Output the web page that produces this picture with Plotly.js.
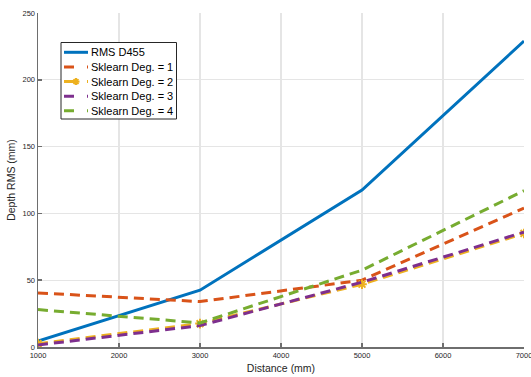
<!DOCTYPE html>
<html>
<head>
<meta charset="utf-8">
<script src="https://cdn.plot.ly/plotly-3.0.1.min.js"></script>
<style>html,body{margin:0;padding:0;background:#fff;}#chart{width:531px;height:377px;}</style>
</head>
<body>
<div id="chart"></div>
<script>
const distance = [1000, 3000, 5000, 7000];
const rmsD455 = [4.5, 42.5, 117.5, 229];
const sklearnDeg1 = [40.5, 34, 50, 104];
const sklearnDeg2 = [2.5, 17.5, 47, 85];
const sklearnDeg3 = [1.5, 16, 48.5, 86];
const sklearnDeg4 = [28, 18, 57.5, 117];
const seriesNames = ['RMS D455', 'Sklearn Deg. = 1', 'Sklearn Deg. = 2', 'Sklearn Deg. = 3', 'Sklearn Deg. = 4'];
const xTicks = [1000, 2000, 3000, 4000, 5000, 6000, 7000];
const yTicks = [0, 50, 100, 150, 200, 250];

const colors = ['#0072BD', '#D95319', '#EDB120', '#7E2F8E', '#77AC30'];
const dash = '10px,6px';
const traces = [
  {x: distance, y: rmsD455, name: seriesNames[0], mode: 'lines', line: {color: colors[0], width: 3}},
  {x: distance, y: sklearnDeg1, name: seriesNames[1], mode: 'lines', line: {color: colors[1], width: 3, dash: dash}},
  {x: distance, y: sklearnDeg2, name: seriesNames[2], mode: 'lines+markers', line: {color: colors[2], width: 3, dash: dash},
   marker: {symbol: 'asterisk-open', size: 8, color: colors[2], line: {color: colors[2], width: 2}}},
  {x: distance, y: sklearnDeg3, name: seriesNames[3], mode: 'lines', line: {color: colors[3], width: 3, dash: dash}},
  {x: distance, y: sklearnDeg4, name: seriesNames[4], mode: 'lines', line: {color: colors[4], width: 3, dash: dash}}
];

const W = 531, H = 377;
const M = {l: 38, r: 7, t: 13, b: 30};
const pw = W - M.l - M.r, ph = H - M.t - M.b;
const px2x = p => (p - M.l) / pw;
const py2y = p => (H - M.b - p) / ph;

// custom legend (pixel layout)
const legBox = {x0: 61, x1: 176.5, y0: 42.5, y1: 119};
const legRowY = [52.3, 67, 81.6, 96.2, 110.8];
const shapes = [{
  type: 'rect', xref: 'paper', yref: 'paper',
  x0: px2x(legBox.x0), x1: px2x(legBox.x1), y0: py2y(legBox.y1), y1: py2y(legBox.y0),
  line: {color: '#262626', width: 1}, fillcolor: '#fff', layer: 'above'
}];
const annotations = [];
seriesNames.forEach((name, i) => {
  const yy = py2y(legRowY[i]);
  shapes.push({
    type: 'line', xref: 'paper', yref: 'paper', layer: 'above',
    x0: px2x(64), x1: px2x(88), y0: yy, y1: yy,
    line: {color: colors[i], width: 3, dash: i === 0 ? 'solid' : '10px,13px'}
  });
  annotations.push({
    xref: 'paper', yref: 'paper', x: px2x(88.5), y: yy, xanchor: 'left', yanchor: 'middle',
    text: name, showarrow: false, font: {size: 11, color: '#000', family: 'Liberation Sans, Arial, sans-serif'}
  });
});
// asterisk marker for deg 2 legend sample
(function () {
  const cx = 76, cy = legRowY[2], r = 3.5, d = r * 0.7071;
  const segs = [[-r, 0, r, 0], [0, -r, 0, r], [-d, -d, d, d], [-d, d, d, -d]];
  segs.forEach(s => shapes.push({
    type: 'line', xref: 'paper', yref: 'paper', layer: 'above',
    x0: px2x(cx + s[0]), y0: py2y(cy + s[1]), x1: px2x(cx + s[2]), y1: py2y(cy + s[3]),
    line: {color: colors[2], width: 2}
  }));
})();

const axisCommon = {
  showgrid: true, gridcolor: '#e5e5e5', gridwidth: 1.2,
  zeroline: false, showline: true, linecolor: '#6e6e6e', linewidth: 1.5,
  ticks: 'inside', ticklen: 4, tickcolor: '#6e6e6e', tickwidth: 1.5,
  tickfont: {family: 'Liberation Sans, Arial, sans-serif', size: 7.5, color: '#262626'},
  ticklabeloverflow: 'allow', mirror: false
};

const layout = {
  width: W, height: H,
  margin: M,
  paper_bgcolor: '#fff', plot_bgcolor: '#fff',
  showlegend: false,
  font: {family: 'Liberation Sans, Arial, sans-serif', color: '#262626'},
  xaxis: Object.assign({}, axisCommon, {
    range: [1000, 7000], tickvals: xTicks, ticktext: xTicks.map(String),
    title: {text: 'Distance (mm)', font: {size: 10.5, color: '#262626'}, standoff: 6}
  }),
  yaxis: Object.assign({}, axisCommon, {
    range: [0, 250], tickvals: yTicks, ticktext: yTicks.map(String),
    title: {text: 'Depth RMS (mm)', font: {size: 10.5, color: '#262626'}, standoff: 5}
  }),
  shapes: shapes,
  annotations: annotations
};

Plotly.newPlot('chart', traces, layout, {displayModeBar: false, staticPlot: true});
</script>
</body>
</html>
